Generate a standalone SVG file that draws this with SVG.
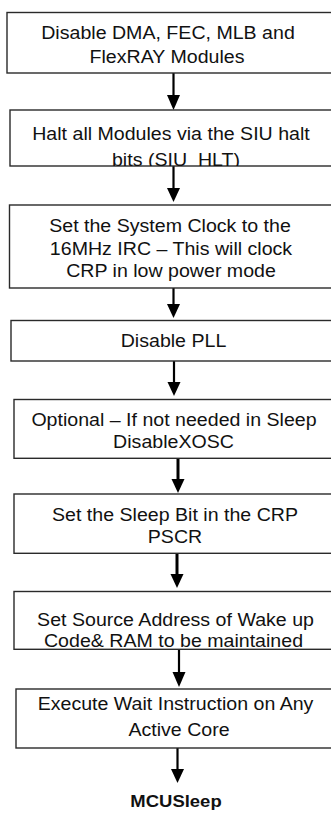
<svg xmlns="http://www.w3.org/2000/svg" width="331" height="816" viewBox="0 0 331 816">
  <style>
    .box { fill: #ffffff; stroke: #2a2a2a; stroke-width: 1.4; }
    .lbl { font-family: "Liberation Sans", Arial, sans-serif; font-size: 17.5px; fill: #111; text-anchor: middle; }
    .end { font-family: "Liberation Sans", Arial, sans-serif; font-size: 16.5px; font-weight: bold; fill: #111; text-anchor: middle; }
    .shaft { stroke: #000; stroke-width: 2.2; fill: none; }
    .thick { stroke-width: 3; }
    .head { fill: #000; }
  </style>
  <defs>
    <clipPath id="clip-halt"><rect x="10" y="110" width="330" height="56"/></clipPath>
  </defs>
  <rect width="331" height="816" fill="#ffffff"/>

  <g id="connectors">
    <line class="shaft" x1="173.5" y1="73" x2="173.5" y2="96"/>
    <polygon class="head" points="167,95 180,95 173.5,110"/>
    <line class="shaft" x1="173.5" y1="166" x2="173.5" y2="189"/>
    <polygon class="head" points="167,188 180,188 173.5,202"/>
    <line class="shaft" x1="173.5" y1="288" x2="173.5" y2="305"/>
    <polygon class="head" points="167,304 180,304 173.5,318"/>
    <line class="shaft" x1="174" y1="361" x2="174" y2="383"/>
    <polygon class="head" points="167.5,382 180.5,382 174,396"/>
    <line class="shaft thick" x1="178" y1="458" x2="178" y2="480"/>
    <polygon class="head" points="171.5,479 184.5,479 178,493"/>
    <line class="shaft thick" x1="177" y1="553" x2="177" y2="575"/>
    <polygon class="head" points="170.5,574 183.5,574 177,588"/>
    <line class="shaft" x1="179" y1="649" x2="179" y2="673"/>
    <polygon class="head" points="172.5,672 185.5,672 179,687"/>
    <line class="shaft" x1="177.5" y1="748" x2="177.5" y2="770"/>
    <polygon class="head" points="171,769 184,769 177.5,783"/>
  </g>

  <g id="disable-modules">
    <rect class="box" x="7" y="12.5" width="340" height="60.5"/>
    <text class="lbl" transform="translate(168 39) scale(1.12 1)">Disable DMA, FEC, MLB and</text>
    <text class="lbl" transform="translate(167 63) scale(1.12 1)">FlexRAY Modules</text>
  </g>

  <g id="halt-modules">
    <rect class="box" x="10" y="110" width="340" height="56"/>
    <g clip-path="url(#clip-halt)">
      <text class="lbl" transform="translate(171 140) scale(1.12 1)">Halt all Modules via the SIU halt</text>
      <text class="lbl" transform="translate(176 165.5) scale(1.12 1)">bits (SIU_HLT)</text>
    </g>
  </g>

  <g id="system-clock">
    <rect class="box" x="9.5" y="205" width="340" height="83"/>
    <text class="lbl" transform="translate(170 232) scale(1.12 1)">Set the System Clock to the</text>
    <text class="lbl" transform="translate(171 254.5) scale(1.12 1)">16MHz IRC – This will clock</text>
    <text class="lbl" transform="translate(171 277) scale(1.12 1)">CRP in low power mode</text>
  </g>

  <g id="disable-pll">
    <rect class="box" x="11" y="320.5" width="340" height="40.5"/>
    <text class="lbl" transform="translate(173.5 346.5) scale(1.12 1)">Disable PLL</text>
  </g>

  <g id="disable-xosc">
    <rect class="box" x="14" y="399.5" width="340" height="58.8"/>
    <text class="lbl" transform="translate(174 426) scale(1.12 1)">Optional – If not needed in Sleep</text>
    <text class="lbl" transform="translate(173.5 447.5) scale(1.12 1)">DisableXOSC</text>
  </g>

  <g id="sleep-bit">
    <rect class="box" x="14" y="494" width="340" height="59.3"/>
    <text class="lbl" transform="translate(175 520.5) scale(1.12 1)">Set the Sleep Bit in the CRP</text>
    <text class="lbl" transform="translate(175 542.5) scale(1.12 1)">PSCR</text>
  </g>

  <g id="wakeup-address">
    <rect class="box" x="14" y="591.5" width="340" height="57.8"/>
    <text class="lbl" transform="translate(175.5 625.5) scale(1.12 1)">Set Source Address of Wake up</text>
    <text class="lbl" transform="translate(173.5 647) scale(1.12 1)">Code&amp; RAM to be maintained</text>
  </g>

  <g id="wait-instruction">
    <rect class="box" x="16" y="689" width="340" height="59"/>
    <text class="lbl" transform="translate(175.5 710) scale(1.12 1)">Execute Wait Instruction on Any</text>
    <text class="lbl" transform="translate(179 736) scale(1.12 1)">Active Core</text>
  </g>

  <g id="mcu-sleep">
    <text class="end" transform="translate(176 807) scale(1.12 1)">MCUSleep</text>
  </g>
</svg>
